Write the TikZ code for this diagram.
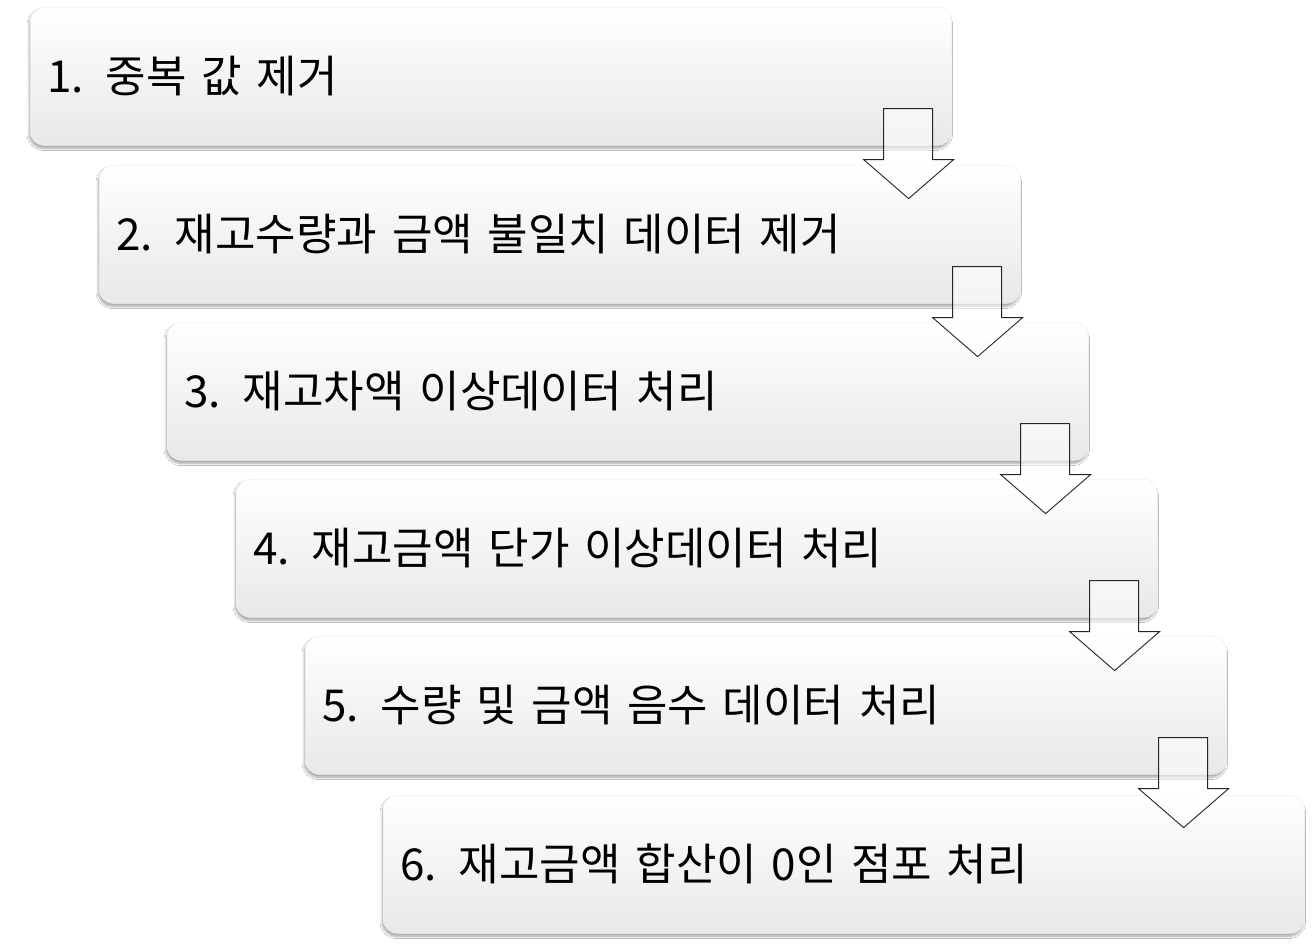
\documentclass[tikz,border=0pt]{standalone}
\usepackage{fontspec}
\setmainfont{Noto Sans CJK KR}
\usetikzlibrary{shadows.blur}
\tikzset{
  stepbox/.style={rectangle, rounded corners=14pt, draw=gray!12, line width=0.6pt,
    top color=white, middle color=white, bottom color=gray!18,
    blur shadow={shadow xshift=-1pt, shadow yshift=-3pt, shadow blur steps=8, shadow opacity=35},
    minimum width=921pt, minimum height=138pt, text width=887pt, inner xsep=17pt,
    align=left, anchor=north west, font=\fontsize{44pt}{48pt}\selectfont},
  blockarrow/.style={draw=black!85, line width=0.9pt, fill=white, fill opacity=0.55, line join=miter}
}
\newcommand{\downarrowshape}[1]{%
  \path[blockarrow] ([xshift=-68pt,yshift=37pt]#1.south east) -- ([xshift=-19pt,yshift=37pt]#1.south east)
    -- ([xshift=-19pt,yshift=-14pt]#1.south east) -- ([xshift=2pt,yshift=-14pt]#1.south east)
    -- ([xshift=-43pt,yshift=-53pt]#1.south east) -- ([xshift=-88pt,yshift=-14pt]#1.south east)
    -- ([xshift=-68pt,yshift=-14pt]#1.south east) -- cycle;}
\begin{document}
\begin{tikzpicture}[x=1pt,y=-1pt]
\useasboundingbox[fill=white] (0,0) rectangle (1315,947);
\node[stepbox] (b1) at (30,7) {1. 중복 값 제거};
\node[stepbox] (b2) at (99,165) {2. 재고수량과 금액 불일치 데이터 제거};
\node[stepbox] (b3) at (167,322) {3. 재고차액 이상데이터 처리};
\node[stepbox] (b4) at (236,479) {4. 재고금액 단가 이상데이터 처리};
\node[stepbox] (b5) at (305,636) {5. 수량 및 금액 음수 데이터 처리};
\node[stepbox] (b6) at (383,795) {6. 재고금액 합산이 0인 점포 처리};
\downarrowshape{b1}
\downarrowshape{b2}
\downarrowshape{b3}
\downarrowshape{b4}
\downarrowshape{b5}
\end{tikzpicture}
\end{document}
